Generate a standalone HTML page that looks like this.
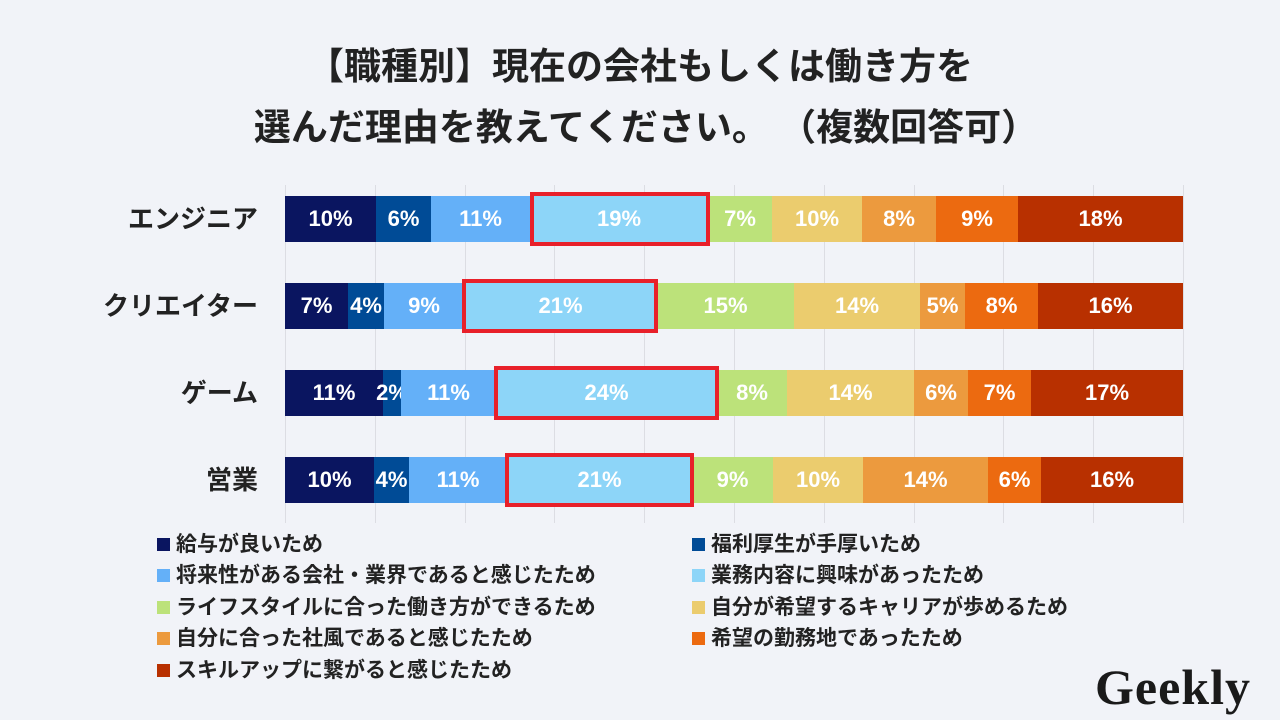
<!DOCTYPE html>
<html><head><meta charset="utf-8"><style>
body{margin:0;width:1280px;height:720px;background:#f1f3f8;position:relative;overflow:hidden;font-family:"Liberation Sans","Noto Sans CJK JP",sans-serif;}
.t{position:absolute;left:0;width:1280px;text-align:center;font-size:37px;font-weight:bold;color:#222;line-height:44px;}
.g{position:absolute;top:185px;height:338px;width:1px;background:#dcdde3;}
.s{position:absolute;height:46px;color:#fff;font-size:22px;font-weight:bold;display:flex;align-items:center;justify-content:center;}
.c{position:absolute;right:1022px;font-size:26px;font-weight:bold;color:#222;height:46px;line-height:46px;}
.r{position:absolute;border:4px solid #e8202a;box-sizing:border-box;}
.l{position:absolute;font-size:21px;font-weight:bold;color:#222;line-height:22px;white-space:nowrap;}
.l i{display:inline-block;width:13px;height:13px;margin-right:6px;vertical-align:0px;}
</style></head><body>
<div class="t" style="top:45px">【職種別】現在の会社もしくは働き方を</div>
<div class="t" style="top:106px;left:6px">選んだ理由を教えてください。 （複数回答可）</div>
<div class="g" style="left:285px"></div><div class="g" style="left:375px"></div><div class="g" style="left:465px"></div><div class="g" style="left:554px"></div><div class="g" style="left:644px"></div><div class="g" style="left:734px"></div><div class="g" style="left:824px"></div><div class="g" style="left:914px"></div><div class="g" style="left:1003px"></div><div class="g" style="left:1093px"></div><div class="g" style="left:1183px"></div>

<div class="c" style="top:196px">エンジニア</div>
<div class="c" style="top:283px">クリエイター</div>
<div class="c" style="top:370px">ゲーム</div>
<div class="c" style="top:457px">営業</div>

<div style="position:absolute;top:196px;left:0">
<div class="s" style="left:285px;width:91px;background:#0a1560">10%</div><div class="s" style="left:376px;width:55px;background:#004b96">6%</div><div class="s" style="left:431px;width:99px;background:#64b0f8">11%</div><div class="s" style="left:530px;width:178px;background:#8dd5f8">19%</div><div class="s" style="left:708px;width:64px;background:#bce27a">7%</div><div class="s" style="left:772px;width:90px;background:#ebcc6e">10%</div><div class="s" style="left:862px;width:74px;background:#ec9a3e">8%</div><div class="s" style="left:936px;width:82px;background:#ec6a10">9%</div><div class="s" style="left:1018px;width:165px;background:#b83000">18%</div>
</div>
<div style="position:absolute;top:283px;left:0">
<div class="s" style="left:285px;width:63px;background:#0a1560">7%</div><div class="s" style="left:348px;width:36px;background:#004b96">4%</div><div class="s" style="left:384px;width:80px;background:#64b0f8">9%</div><div class="s" style="left:464px;width:193px;background:#8dd5f8">21%</div><div class="s" style="left:657px;width:137px;background:#bce27a">15%</div><div class="s" style="left:794px;width:126px;background:#ebcc6e">14%</div><div class="s" style="left:920px;width:45px;background:#ec9a3e">5%</div><div class="s" style="left:965px;width:73px;background:#ec6a10">8%</div><div class="s" style="left:1038px;width:145px;background:#b83000">16%</div>
</div>
<div style="position:absolute;top:370px;left:0">
<div class="s" style="left:285px;width:98px;background:#0a1560">11%</div><div class="s" style="left:383px;width:18px;background:#004b96">2%</div><div class="s" style="left:401px;width:95px;background:#64b0f8">11%</div><div class="s" style="left:496px;width:221px;background:#8dd5f8">24%</div><div class="s" style="left:717px;width:70px;background:#bce27a">8%</div><div class="s" style="left:787px;width:127px;background:#ebcc6e">14%</div><div class="s" style="left:914px;width:54px;background:#ec9a3e">6%</div><div class="s" style="left:968px;width:63px;background:#ec6a10">7%</div><div class="s" style="left:1031px;width:152px;background:#b83000">17%</div>
</div>
<div style="position:absolute;top:457px;left:0">
<div class="s" style="left:285px;width:89px;background:#0a1560">10%</div><div class="s" style="left:374px;width:35px;background:#004b96">4%</div><div class="s" style="left:409px;width:98px;background:#64b0f8">11%</div><div class="s" style="left:507px;width:185px;background:#8dd5f8">21%</div><div class="s" style="left:692px;width:81px;background:#bce27a">9%</div><div class="s" style="left:773px;width:90px;background:#ebcc6e">10%</div><div class="s" style="left:863px;width:125px;background:#ec9a3e">14%</div><div class="s" style="left:988px;width:53px;background:#ec6a10">6%</div><div class="s" style="left:1041px;width:142px;background:#b83000">16%</div>
</div>

<div class="r" style="left:530px;top:192px;width:180px;height:54px"></div>
<div class="r" style="left:462px;top:279px;width:196px;height:54px"></div>
<div class="r" style="left:494px;top:366px;width:225px;height:54px"></div>
<div class="r" style="left:505px;top:453px;width:189px;height:54px"></div>

<div class="l" style="left:157px;top:534px"><i style="background:#0a1560"></i>給与が良いため</div>
<div class="l" style="left:692px;top:534px"><i style="background:#004b96"></i>福利厚生が手厚いため</div>
<div class="l" style="left:157px;top:565px"><i style="background:#64b0f8"></i>将来性がある会社・業界であると感じたため</div>
<div class="l" style="left:692px;top:565px"><i style="background:#8dd5f8"></i>業務内容に興味があったため</div>
<div class="l" style="left:157px;top:597px"><i style="background:#bce27a"></i>ライフスタイルに合った働き方ができるため</div>
<div class="l" style="left:692px;top:597px"><i style="background:#ebcc6e"></i>自分が希望するキャリアが歩めるため</div>
<div class="l" style="left:157px;top:628px"><i style="background:#ec9a3e"></i>自分に合った社風であると感じたため</div>
<div class="l" style="left:692px;top:628px"><i style="background:#ec6a10"></i>希望の勤務地であったため</div>
<div class="l" style="left:157px;top:660px"><i style="background:#b83000"></i>スキルアップに繋がると感じたため</div>

<div style="position:absolute;left:1095px;top:657px;font-family:'Liberation Serif',serif;font-weight:bold;font-size:50px;color:#1a1a1a;line-height:60px;letter-spacing:1px;">Geekly</div>
</body></html>
